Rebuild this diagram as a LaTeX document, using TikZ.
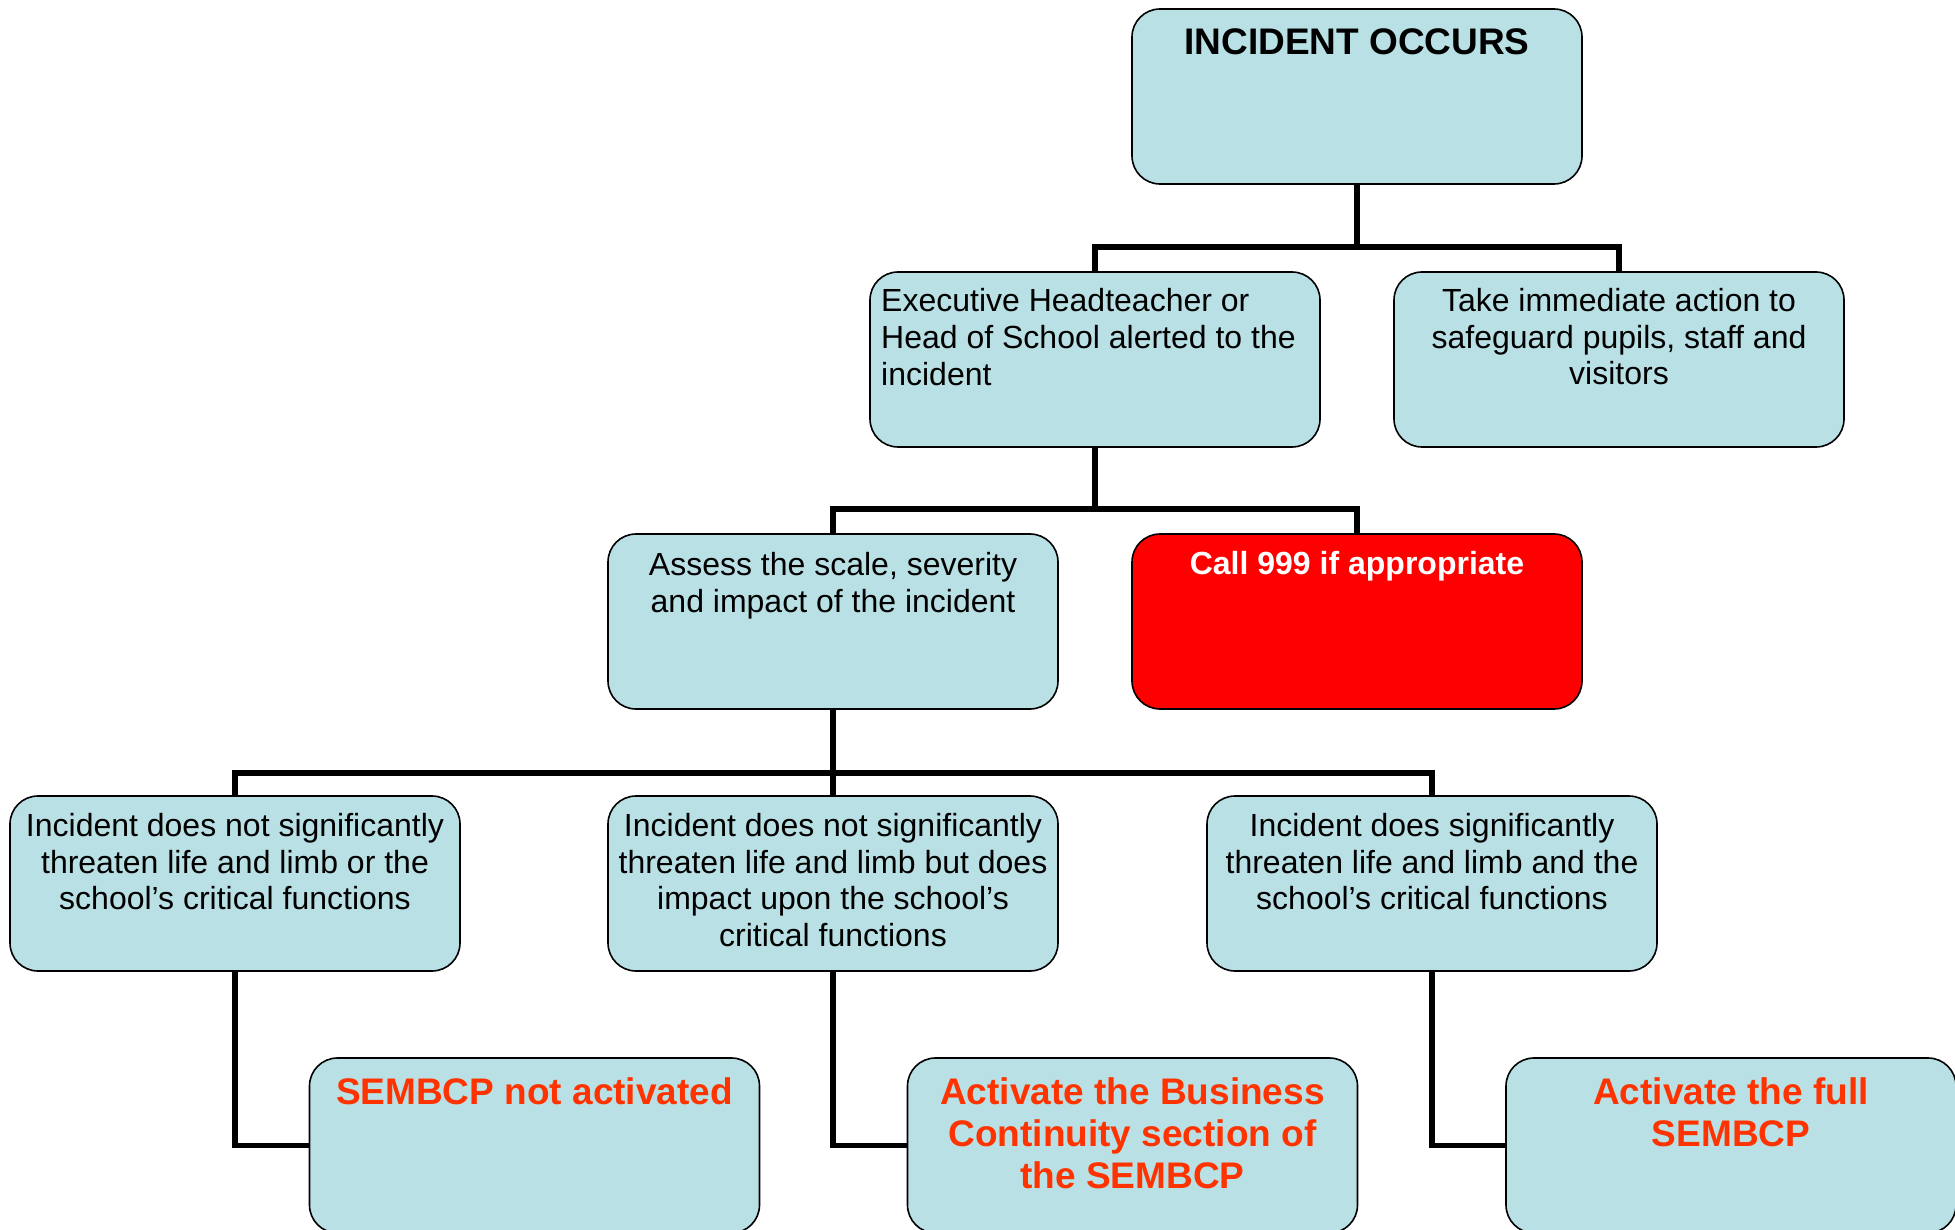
\documentclass[tikz,border=0pt]{standalone}
\usepackage{fontspec}
\setmainfont{Liberation Sans}
\definecolor{boxblue}{RGB}{185,224,228}
\definecolor{actred}{RGB}{255,51,0}
\begin{document}
\begin{tikzpicture}[x=1pt,y=-1pt,
  box/.style={draw=black, line width=1.6pt, fill=boxblue, rounded corners=28pt,
    minimum width=450pt, minimum height=175pt, inner sep=0pt, outer sep=0pt},
  redbox/.style={box, fill=red},
  normtxt/.style={font=\fontsize{32}{36.8}\selectfont, align=center, inner sep=0pt, anchor=north, text=black},
  whitetxt/.style={font=\fontsize{32}{36.8}\selectfont\bfseries, align=center, inner sep=0pt, anchor=north, text=white},
  boldtxt/.style={font=\fontsize{37}{42}\selectfont\bfseries, align=center, inner sep=0pt, anchor=north},
  conn/.style={line width=5.5pt}]
\useasboundingbox (0,0) rectangle (1955,1230);
\fill[white] (0,0) rectangle (1955,1230);

% boxes
\node[box] (occ) at (1357,96.5) {};
\node[box] (exec) at (1095,359.5) {};
\node[box] (take) at (1619,359.5) {};
\node[box] (assess) at (833,621.5) {};
\node[redbox] (call) at (1357,621.5) {};
\node[box] (nsig) at (235,883.5) {};
\node[box] (nsigbut) at (833,883.5) {};
\node[box] (sig) at (1432,883.5) {};
\node[box] (sem1) at (534.5,1145.5) {};
\node[box] (sem2) at (1132.5,1145.5) {};
\node[box] (sem3) at (1731,1145.5) {};

% texts
\node[boldtxt, text=black] (occT) at ([yshift=-19pt]occ.north) {INCIDENT OCCURS};
\node[normtxt, anchor=north west, align=left] (execT) at ([xshift=11pt,yshift=-16.5pt]exec.north west)
  {Executive Headteacher or\\Head of School alerted to the\\incident};
\node[normtxt] (takeT) at ([yshift=-16pt]take.north)
  {Take immediate action to\\safeguard pupils, staff and\\visitors};
\node[normtxt] (assessT) at ([yshift=-18pt]assess.north)
  {Assess the scale, severity\\and impact of the incident};
\node[whitetxt] (callT) at ([yshift=-17pt]call.north) {Call 999 if appropriate};
\node[normtxt] (nsigT) at ([yshift=-17pt]nsig.north)
  {Incident does not significantly\\threaten life and limb or the\\school’s critical functions};
\node[normtxt] (nsigbutT) at ([yshift=-17pt]nsigbut.north)
  {Incident does not significantly\\threaten life and limb but does\\impact upon the school’s\\critical functions};
\node[normtxt] (sigT) at ([yshift=-17pt]sig.north)
  {Incident does significantly\\threaten life and limb and the\\school’s critical functions};
\node[boldtxt, text=actred] (sem1T) at ([yshift=-19pt]sem1.north) {SEMBCP not activated};
\node[boldtxt, text=actred] (sem2T) at ([yshift=-19pt]sem2.north)
  {Activate the Business\\Continuity section of\\the SEMBCP};
\node[boldtxt, text=actred] (sem3T) at ([yshift=-19pt]sem3.north)
  {Activate the full\\SEMBCP};

% connectors
\coordinate (b1) at (0,247);
\coordinate (b2) at (0,509);
\coordinate (b3) at (0,773);
\draw[conn] (occ.south) -- (occ.south |- b1);
\draw[conn] (exec.north) -- (exec.north |- b1) -| (take.north);
\draw[conn] (exec.south) -- (exec.south |- b2);
\draw[conn] (assess.north) -- (assess.north |- b2) -| (call.north);
\draw[conn] (assess.south) -- (assess.south |- b3);
\draw[conn] (nsig.north) -- (nsig.north |- b3) -| (sig.north);
\draw[conn] (nsigbut.north) -- (nsigbut.north |- b3);
\draw[conn] (nsig.south) |- (sem1.west);
\draw[conn] (nsigbut.south) |- (sem2.west);
\draw[conn] (sig.south) |- (sem3.west);
\end{tikzpicture}
\end{document}
